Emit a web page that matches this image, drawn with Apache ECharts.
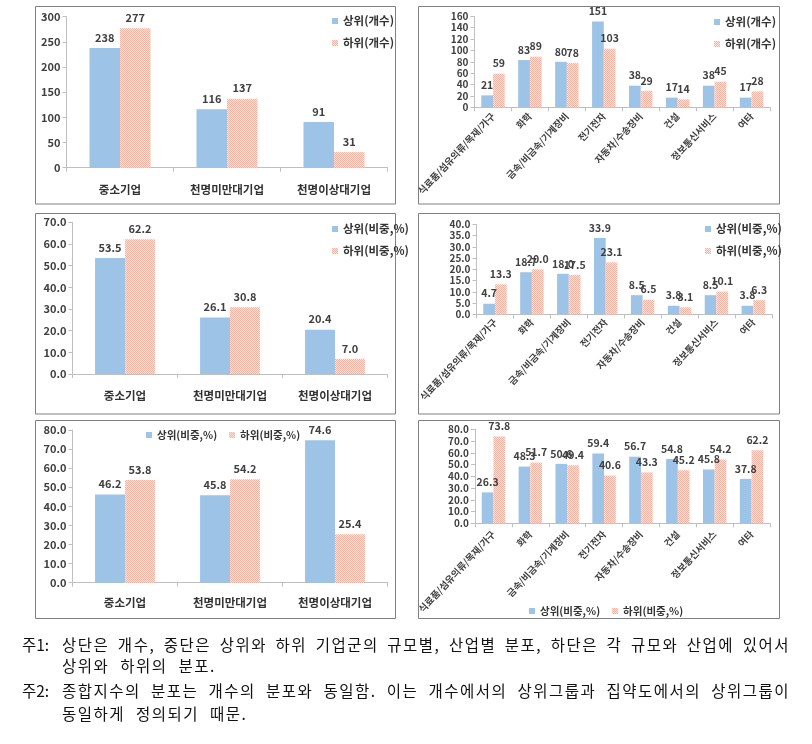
<!DOCTYPE html>
<html><head><meta charset="utf-8">
<script src="https://cdn.jsdelivr.net/npm/echarts@6/dist/echarts.min.js"></script>
<style>
html,body{margin:0;padding:0;background:#fff;}
#chart{position:absolute;left:0;top:0;width:812px;height:744px;}
.note{position:absolute;font-family:'Noto Sans CJK KR',sans-serif;font-size:15.5px;line-height:20px;color:#111;white-space:nowrap;}
.body{letter-spacing:1.5px;word-spacing:6px;}
.j{text-align:justify;text-align-last:justify;white-space:normal;word-spacing:0;}
</style></head><body>
<div id="chart"></div>
<div class="note" style="left:22px;top:634px">주1:</div>
<div class="note body j" style="left:62px;top:634px;width:728px">상단은 개수, 중단은 상위와 하위 기업군의 규모별, 산업별 분포, 하단은 각 규모와 산업에 있어서</div>
<div class="note body" style="left:62px;top:655px">상위와 하위의 분포.</div>
<div class="note" style="left:22px;top:680px">주2:</div>
<div class="note body j" style="left:62px;top:680px;width:728px">종합지수의 분포는 개수의 분포와 동일함. 이는 개수에서의 상위그룹과 집약도에서의 상위그룹이</div>
<div class="note body" style="left:62px;top:703px">동일하게 정의되기 때문.</div>
<script>
// ---- data ----
const sizeCats = ['중소기업', '천명미만대기업', '천명이상대기업'];
const indCats = ['식료품/섬유의류/목재/가구', '화학', '금속/비금속/기계장비', '전기전자', '자동차/수송장비', '건설', '정보통신서비스', '여타'];

const sizeTopCount = [238, 116, 91];
const sizeBotCount = [277, 137, 31];
const indTopCount = [21, 83, 80, 151, 38, 17, 38, 17];
const indBotCount = [59, 89, 78, 103, 29, 14, 45, 28];

const sizeTopShare = [53.5, 26.1, 20.4];
const sizeBotShare = [62.2, 30.8, 7.0];
const indTopShare = [4.7, 18.7, 18.0, 33.9, 8.5, 3.8, 8.5, 3.8];
const indBotShare = [13.3, 20.0, 17.5, 23.1, 6.5, 3.1, 10.1, 6.3];

const sizeTopWithin = [46.2, 45.8, 74.6];
const sizeBotWithin = [53.8, 54.2, 25.4];
const indTopWithin = [26.3, 48.3, 50.6, 59.4, 56.7, 54.8, 45.8, 37.8];
const indBotWithin = [73.8, 51.7, 49.4, 40.6, 43.3, 45.2, 54.2, 62.2];

const nameTopCount = '상위(개수)', nameBotCount = '하위(개수)';
const nameTopShare = '상위(비중,%)', nameBotShare = '하위(비중,%)';

// y axis ranges [max, interval]
const yRanges = [[300, 50], [160, 20], [70, 10], [40, 5], [80, 10], [80, 10]];

// ---- styles ----
const FONT = "'Noto Sans CJK KR', sans-serif";
const BLUE = '#9dc3e6';
function makePattern() {
  const c = document.createElement('canvas');
  c.width = 2; c.height = 2;
  const ctx = c.getContext('2d');
  ctx.fillStyle = '#fde6de'; ctx.fillRect(0, 0, 2, 2);
  ctx.fillStyle = '#f3b2a2'; ctx.fillRect(0, 0, 1, 1); ctx.fillRect(1, 1, 1, 1);
  return c;
}
const PINK = { image: makePattern(), repeat: 'repeat' };

const grids = [
  { left: 66.5, top: 16.7, width: 321, height: 151 },
  { left: 474.5, top: 16.3, width: 295.5, height: 91 },
  { left: 72.5, top: 222.3, width: 315, height: 151.7 },
  { left: 476.5, top: 224.3, width: 295.3, height: 90 },
  { left: 72.5, top: 430, width: 315, height: 152.7 },
  { left: 475, top: 429.3, width: 295, height: 94 }
];
const isInd = [false, true, false, true, false, true];
const decimals = [0, 0, 1, 1, 1, 1];
const catMargins = [16, 7, 16, 6, 14, 9];

const xAxes = grids.map((g, i) => ({
  type: 'category', gridIndex: i,
  data: isInd[i] ? indCats : sizeCats,
  axisLine: { lineStyle: { color: '#bfbfbf' } },
  axisTick: { show: true, length: 4, lineStyle: { color: '#bfbfbf' } },
  axisLabel: isInd[i]
    ? { rotate: 47, interval: 0, fontSize: 9.5, fontWeight: 'bold', color: '#404040', fontFamily: FONT, margin: catMargins[i] }
    : { fontSize: 11.5, fontWeight: 'bold', color: '#333', fontFamily: FONT, margin: catMargins[i] }
}));
const yAxes = grids.map((g, i) => ({
  type: 'value', gridIndex: i, min: 0, max: yRanges[i][0], interval: yRanges[i][1],
  splitLine: { show: false },
  axisLine: { show: true, lineStyle: { color: '#bfbfbf' } },
  axisTick: { show: true, length: 4, lineStyle: { color: '#bfbfbf' } },
  axisLabel: {
    fontSize: isInd[i] ? 10 : 11, fontWeight: 'bold', color: '#404040', fontFamily: FONT, margin: 6,
    formatter: v => v.toFixed(decimals[i])
  }
}));

const seriesSets = [
  [nameTopCount, sizeTopCount, nameBotCount, sizeBotCount],
  [nameTopCount, indTopCount, nameBotCount, indBotCount],
  [nameTopShare, sizeTopShare, nameBotShare, sizeBotShare],
  [nameTopShare, indTopShare, nameBotShare, indBotShare],
  [nameTopShare, sizeTopWithin, nameBotShare, sizeBotWithin],
  [nameTopShare, indTopWithin, nameBotShare, indBotWithin]
];
const series = [];
seriesSets.forEach((s, i) => {
  const common = {
    type: 'bar', xAxisIndex: i, yAxisIndex: i, barGap: '0%',
    barCategoryGap: isInd[i] ? '36.6%' : '43%',
    label: {
      show: true, position: 'top', distance: 5, fontSize: isInd[i] ? 10.5 : 11, fontWeight: 'bold',
      color: '#404040', fontFamily: FONT,
      formatter: p => p.value.toFixed(decimals[i])
    },
    emphasis: { disabled: true }, animation: false
  };
  series.push(Object.assign({}, common, { name: s[0], data: s[1], itemStyle: { color: BLUE } }));
  series.push(Object.assign({}, common, { name: s[2], data: s[3], itemStyle: { color: PINK } }));
});

const legendText = { fontSize: 11.5, fontWeight: 'bold', color: '#333', fontFamily: FONT, lineHeight: 14 };
function legend(names, pos, orient, gap, fs) {
  return Object.assign({
    data: names, orient: orient, itemWidth: 6, itemHeight: 6, itemGap: gap,
    icon: 'rect', textStyle: Object.assign({}, legendText, fs ? { fontSize: fs } : {}), padding: 0, selectedMode: false
  }, pos);
}
const legends = [
  legend([nameTopCount, nameBotCount], { left: 332, top: 14 }, 'vertical', 8),
  legend([nameTopCount, nameBotCount], { left: 714, top: 15 }, 'vertical', 8),
  legend([nameTopShare, nameBotShare], { left: 332, top: 222 }, 'vertical', 8),
  legend([nameTopShare, nameBotShare], { left: 705, top: 222 }, 'vertical', 8),
  legend([nameTopShare, nameBotShare], { left: 146, top: 428 }, 'horizontal', 12, 10.5),
  legend([nameTopShare, nameBotShare], { left: 529, top: 604 }, 'horizontal', 12, 10.5)
];

const boxes = [
  [35.5, 6.5, 360, 197.5], [418.5, 6.5, 361, 197.5],
  [35.5, 213.5, 360, 200.5], [418.5, 213.5, 361, 200.5],
  [35.5, 420.5, 360, 198], [418.5, 420.5, 361, 198]
];
const graphics = boxes.map(b => ({
  type: 'rect', shape: { x: b[0], y: b[1], width: b[2], height: b[3] },
  style: { fill: null, stroke: '#808080', lineWidth: 1 }, silent: true, z: -1
}));

const chart = echarts.init(document.getElementById('chart'), null, { renderer: 'canvas' });
chart.setOption({
  animation: false,
  backgroundColor: '#fff',
  textStyle: { fontFamily: FONT },
  grid: grids,
  xAxis: xAxes,
  yAxis: yAxes,
  legend: legends,
  series: series,
  graphic: graphics
});
</script>
</body></html>
